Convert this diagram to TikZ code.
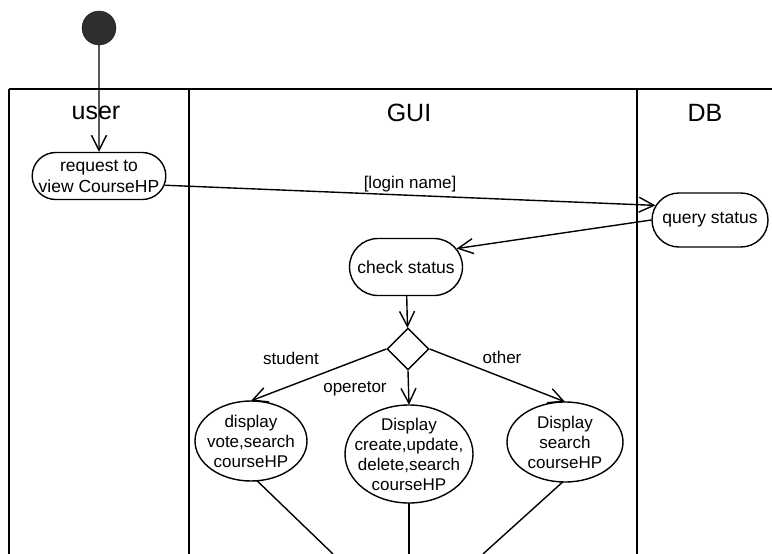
\documentclass[tikz,border=0pt]{standalone}
\usepackage{fontspec}
\setmainfont{Liberation Sans}
\usetikzlibrary{arrows.meta,shapes.geometric,shapes.misc,calc}
\begin{document}
\begin{tikzpicture}[x=1pt,y=-1pt,
  lane/.style={line width=1.7pt},
  lanelbl/.style={font=\fontsize{25}{29}\selectfont},
  act/.style={draw,rounded rectangle,line width=1.4pt,align=center,inner sep=0pt,
    font=\fontsize{17.5}{21}\selectfont},
  dispnode/.style={align=center,inner sep=0pt,font=\fontsize{17}{20}\selectfont},
  ell/.style={line width=1.4pt},
  decis/.style={draw,diamond,line width=1.4pt,inner sep=0pt,minimum width=42pt,minimum height=42pt},
  flow/.style={line width=1.4pt,-{Straight Barb[length=15pt,width=15pt,line width=1.4pt]}},
  plain/.style={line width=1.4pt},
  lbl/.style={font=\fontsize{17}{20}\selectfont,inner sep=1pt}]
\useasboundingbox (0,0) rectangle (772,554);
\fill[white] (0,0) rectangle (772,554);
% swimlanes
\draw[lane] (9,89) -- (772,89);
\draw[lane] (9,89) -- (9,554);
\draw[lane] (189,89) -- (189,554);
\draw[lane] (637,89) -- (637,554);
\node[lanelbl] (luser) at (96,113) {user};
\node[lanelbl] (lgui) at (409,113) {GUI};
\node[lanelbl] (ldb) at (705,113) {DB};
% nodes
\node[circle,fill=black!82,draw=black!90,minimum size=34pt,inner sep=0pt] (init) at (99,28) {};
\node[act,minimum width=129pt,minimum height=47pt] (req) at (99,176) {request to\\view CourseHP};
\node[act,minimum width=116pt,minimum height=54pt] (qs) at (710,220) {query status};
\node[act,minimum width=113pt,minimum height=57pt] (cs) at (406,267) {check status};
\node[decis] (dec) at (408,349) {};
\node[dispnode,minimum width=112pt,minimum height=80pt] (d1) at (251,441) {display\\vote,search\\courseHP};
\node[dispnode,minimum width=128pt,minimum height=98pt] (d2) at (409,454) {Display\\create,update,\\delete,search\\courseHP};
\node[dispnode,minimum width=116pt,minimum height=80pt] (d3) at (565,442) {Display\\search\\courseHP};
\draw[ell] (d1.center) ellipse [x radius=56, y radius=40];
\draw[ell] (d2.center) ellipse [x radius=64, y radius=49];
\draw[ell] (d3.center) ellipse [x radius=58, y radius=40];
\coordinate (b1) at (333,554);
\coordinate (b2) at (409,554);
\coordinate (b3) at (483,554);
% connectors
\draw[flow] (init) -- (req);
\draw[flow] (req.-8) -- node[lbl,above=2pt,pos=0.5] (lname) {[login name]} (qs.165);
\draw[flow] (qs.west) -- (cs.20);
\draw[flow] (cs) -- (dec);
\draw[flow] (dec.west) -- (d1.north);
\draw[flow] (dec.south) -- (d2.north);
\draw[flow] (dec.east) -- (d3.north);
\node[lbl] (lstu) at (291,358) {student};
\node[lbl] (lop) at (355,389) {operetor};
\node[lbl] (loth) at (502,357) {other};
\draw[plain] ([xshift=6pt,yshift=0.5pt]d1.south) -- (b1);
\draw[plain] (d2.south) -- (b2);
\draw[plain] ([xshift=-2pt,yshift=0.5pt]d3.south) -- (b3);
\end{tikzpicture}
\end{document}
